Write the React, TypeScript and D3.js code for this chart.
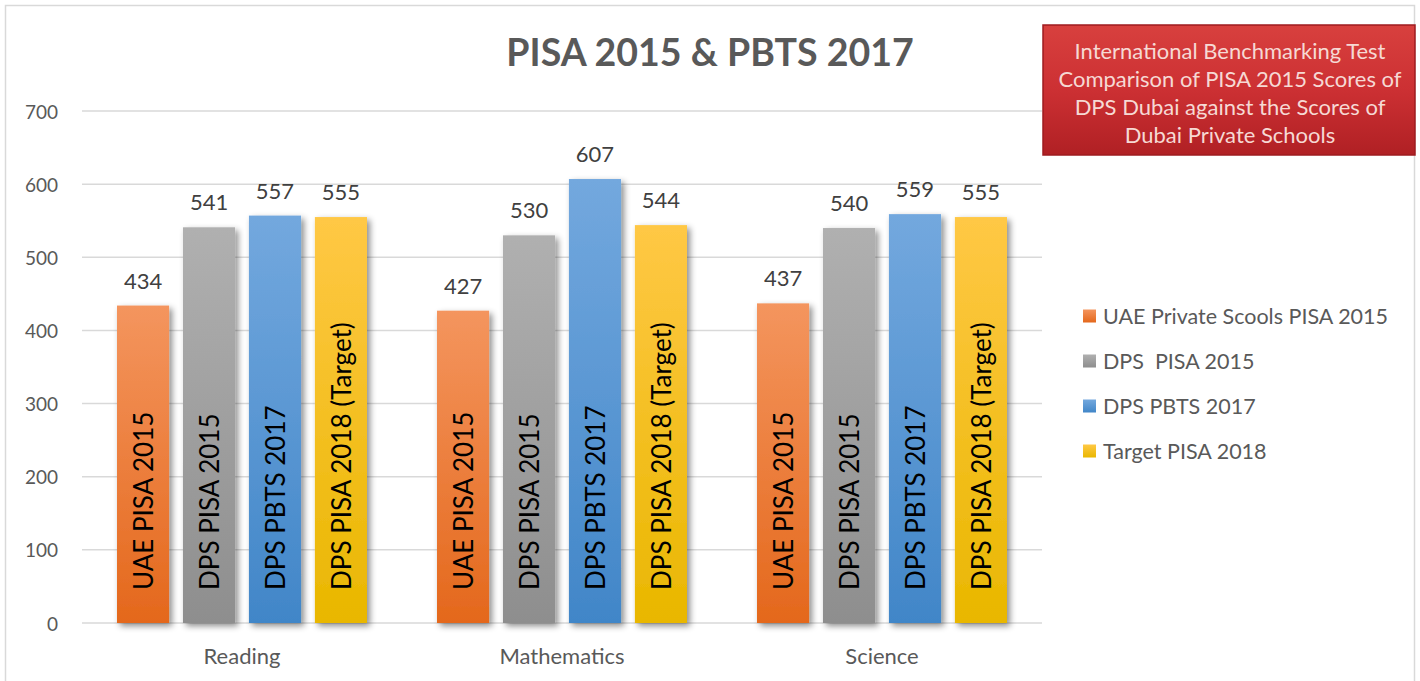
import React, { useEffect } from "react";
import * as d3 from "d3";

const categories = ["Reading", "Mathematics", "Science"];
const seriesNames = ["UAE Private Scools PISA 2015", "DPS  PISA 2015", "DPS PBTS 2017", "Target PISA 2018"];
const barLabels = ["UAE PISA 2015", "DPS PISA 2015", "DPS PBTS 2017", "DPS PISA 2018 (Target)"];
const uaePisa2015 = [434, 427, 437];
const dpsPisa2015 = [541, 530, 540];
const dpsPbts2017 = [557, 607, 559];
const targetPisa2018 = [555, 544, 555];
const yTicks = [0, 100, 200, 300, 400, 500, 600, 700];
const boxLines = [
  "International Benchmarking Test",
  "Comparison of PISA 2015 Scores of",
  "DPS Dubai against the Scores of",
  "Dubai Private Schools",
];

const seriesValues = [uaePisa2015, dpsPisa2015, dpsPbts2017, targetPisa2018];
const gradStops = [
  ["#f4955e", "#e4681c"],
  ["#b0b0b0", "#8e8e8e"],
  ["#73a8de", "#4186c8"],
  ["#ffc845", "#e9b700"],
];

const App = () => {
  const ref = React.useRef<SVGSVGElement>(null);
  const W = 1420;
  const H = 681;
  const font = "Lato, 'Open Sans', sans-serif";

  useEffect(() => {
    const svg = d3.select(ref.current);
    svg.selectAll("*").remove();

    const defs = svg.append("defs");
    gradStops.forEach((g, i) => {
      const lg = defs.append("linearGradient")
        .attr("id", "bar" + i)
        .attr("x1", 0).attr("y1", 0).attr("x2", 0).attr("y2", 1);
      lg.append("stop").attr("offset", "0%").attr("stop-color", g[0]);
      lg.append("stop").attr("offset", "100%").attr("stop-color", g[1]);
    });
    const red = defs.append("linearGradient")
      .attr("id", "redbox")
      .attr("x1", 0).attr("y1", 0).attr("x2", 0).attr("y2", 1);
    red.append("stop").attr("offset", "0%").attr("stop-color", "#d8403e");
    red.append("stop").attr("offset", "50%").attr("stop-color", "#cc3033");
    red.append("stop").attr("offset", "100%").attr("stop-color", "#b02024");
    defs.append("filter")
      .attr("id", "shadow")
      .attr("x", "-20%").attr("y", "-20%").attr("width", "150%").attr("height", "150%")
      .append("feDropShadow")
      .attr("dx", 3).attr("dy", 3).attr("stdDeviation", 3)
      .attr("flood-color", "#000").attr("flood-opacity", 0.45);

    // outer frame
    svg.append("rect")
      .attr("x", 5.5).attr("y", 5.5).attr("width", 1409).attr("height", 690)
      .attr("fill", "#fff").attr("stroke", "#d9d9d9").attr("stroke-width", 1.5);

    const x0 = d3.scaleBand().domain(categories).range([82, 1042]).paddingInner(0).paddingOuter(0);
    const x1 = d3.scaleBand().domain(d3.range(4).map(String))
      .range([35, x0.bandwidth() - 35]).paddingInner(0.21).paddingOuter(0);
    const y = d3.scaleLinear().domain([0, 700]).range([623, 111]);

    // grid
    svg.append("g").selectAll("line").data(yTicks).join("line")
      .attr("x1", 82).attr("x2", 1042)
      .attr("y1", d => y(d)).attr("y2", d => y(d))
      .attr("stroke", "#d9d9d9").attr("stroke-width", 1.5);

    svg.append("g").selectAll("text").data(yTicks).join("text")
      .attr("x", 58).attr("y", d => y(d))
      .attr("text-anchor", "end").attr("dominant-baseline", "central")
      .attr("font-family", font).attr("font-size", 19).attr("fill", "#595959")
      .text(d => d);

    // bars
    const groups = svg.append("g").selectAll("g").data(categories).join("g")
      .attr("transform", d => `translate(${x0(d)},0)`);

    groups.each(function (cat, ci) {
      const g = d3.select(this);
      seriesValues.forEach((vals, si) => {
        const bx = x1(String(si))!;
        const bw = x1.bandwidth();
        g.append("rect")
          .attr("x", bx).attr("y", y(vals[ci]))
          .attr("width", bw).attr("height", y(0) - y(vals[ci]))
          .attr("fill", `url(#bar${si})`)
          .attr("filter", "url(#shadow)");
        g.append("text")
          .attr("x", bx + bw / 2).attr("y", y(vals[ci]) - 17)
          .attr("text-anchor", "middle")
          .attr("font-family", font).attr("font-size", 22).attr("fill", "#404040")
          .text(vals[ci]);
        g.append("text")
          .attr("transform", `translate(${bx + bw / 2},${y(0) - 33}) rotate(-90)`)
          .attr("dominant-baseline", "central")
          .attr("font-family", font).attr("font-size", 26).attr("fill", "#000")
          .text(barLabels[si]);
      });
    });

    // category labels
    svg.append("g").selectAll("text").data(categories).join("text")
      .attr("x", d => x0(d)! + x0.bandwidth() / 2).attr("y", 655)
      .attr("text-anchor", "middle").attr("dominant-baseline", "central")
      .attr("font-family", font).attr("font-size", 22).attr("fill", "#595959")
      .text(d => d);

    // title
    svg.append("text")
      .attr("x", 710).attr("y", 66)
      .attr("text-anchor", "middle")
      .attr("font-family", font).attr("font-size", 37.5).attr("font-weight", "bold")
      .attr("fill", "#595959")
      .text("PISA 2015 & PBTS 2017");

    // red info box
    svg.append("rect")
      .attr("x", 1043).attr("y", 25).attr("width", 372).attr("height", 130)
      .attr("fill", "url(#redbox)").attr("stroke", "#9e1b1f").attr("stroke-width", 1.5);
    svg.append("g").selectAll("text").data(boxLines).join("text")
      .attr("x", 1230).attr("y", (d, i) => 50 + i * 28)
      .attr("text-anchor", "middle").attr("dominant-baseline", "central")
      .attr("font-family", font).attr("font-size", 22).attr("fill", "#f6d9d4")
      .text(d => d);

    // legend
    const legend = svg.append("g").selectAll("g").data(seriesNames).join("g")
      .attr("transform", (d, i) => `translate(1083,${316 + i * 45})`);
    legend.append("rect")
      .attr("x", 0).attr("y", -6.5).attr("width", 13).attr("height", 13)
      .attr("fill", (d, i) => `url(#bar${i})`);
    legend.append("text")
      .attr("x", 20).attr("y", 0)
      .attr("dominant-baseline", "central")
      .attr("font-family", font).attr("font-size", 21.5).attr("fill", "#595959")
      .attr("xml:space", "preserve")
      .style("white-space", "pre")
      .text(d => d);
  }, []);

  return (
    <svg ref={ref} width={W} height={H} style={{ position: "absolute", left: 0, top: 0 }} />
  );
};

export default App;
